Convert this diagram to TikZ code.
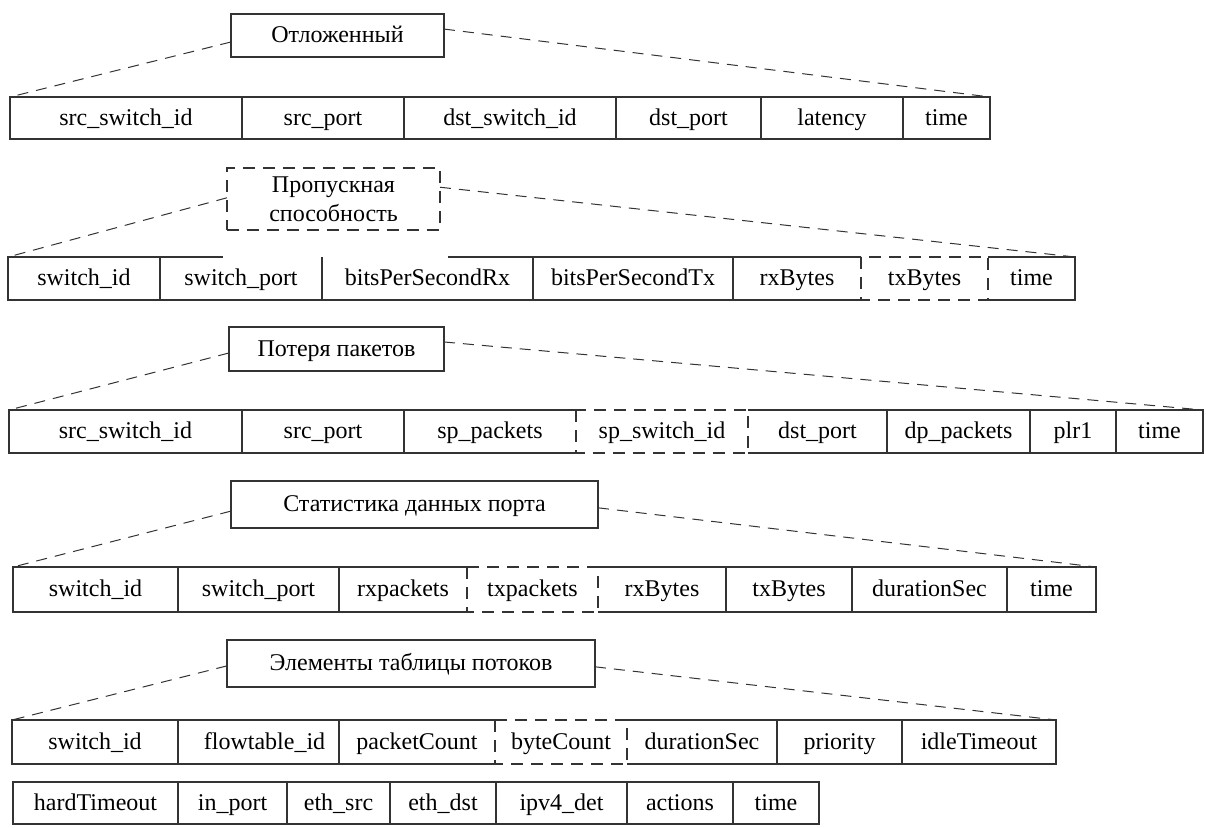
\documentclass[tikz,border=0pt]{standalone}
\usepackage{fontspec}
\setmainfont{Liberation Serif}
\usetikzlibrary{calc}

\definecolor{linec}{HTML}{333333}

% one field of a record: name, x-left, x-right, y-top, y-bottom, text
\newcommand{\fieldcell}[6]{%
  \node[cellbox, minimum width={(#3-#2)*0.5pt}, minimum height={(#5-#4)*0.5pt}]
    (#1) at ({(#2+#3)/2},{(#4+#5)/2}) {#6};}

\tikzset{
  txt/.style={text=black, font=\fontsize{12}{14.5}\selectfont},
  cellbox/.style={draw=none, inner sep=0pt, outer sep=0pt, txt,
                  text height=8.5pt, text depth=1.5pt},
  solidline/.style={draw=linec, line width=0.65pt},
  dashline/.style={draw=linec, line width=0.65pt, dash pattern=on 6pt off 4pt},
  framebox/.style={draw=linec, line width=0.65pt, inner sep=0pt, outer sep=0pt,
                   align=center, txt},
  titlebox/.style={framebox, text height=8.5pt, text depth=1.5pt},
  linkline/.style={draw=linec, line width=0.5pt, dash pattern=on 5.5pt off 4pt},
}

\begin{document}
\begin{tikzpicture}[x=0.5pt, y=-0.5pt]
\useasboundingbox (0,0) rectangle (1206,827);

% ---------- record 1 ----------
\node[titlebox, minimum width=106.5pt, minimum height=21.5pt] (t1) at (337.5,35.5) {Отложенный};
\fieldcell{r1a}{10}{242}{97}{139}{src\_switch\_id}
\fieldcell{r1b}{242}{404}{97}{139}{src\_port}
\fieldcell{r1c}{404}{616}{97}{139}{dst\_switch\_id}
\fieldcell{r1d}{616}{761}{97}{139}{dst\_port}
\fieldcell{r1e}{761}{903}{97}{139}{latency}
\fieldcell{r1f}{903}{990}{97}{139}{time}
\draw[solidline] (r1a.north west) rectangle (r1f.south east);
\foreach \c in {a,b,c,d,e} \draw[solidline] (r1\c.north east) -- (r1\c.south east);
\draw[linkline] ($(t1.north west)!0.65!(t1.south west)$) -- (r1a.north west);
\draw[linkline] ($(t1.north east)!0.35!(t1.south east)$) -- (r1f.north east);

% ---------- record 2 ----------
\node[framebox, dashline, minimum width=106.5pt, minimum height=31pt] (t2) at (333.5,199) {Пропускная\\способность};
\fieldcell{r2a}{8}{160}{257}{300}{switch\_id}
\fieldcell{r2b}{160}{322}{257}{300}{switch\_port}
\fieldcell{r2c}{322}{533}{257}{300}{bitsPerSecondRx}
\fieldcell{r2d}{533}{733}{257}{300}{bitsPerSecondTx}
\fieldcell{r2e}{733}{861}{257}{300}{rxBytes}
\fieldcell{r2f}{861}{988}{257}{300}{txBytes}
\fieldcell{r2g}{988}{1075}{257}{300}{time}
\coordinate (gapL) at (223,257);
\coordinate (gapR) at (448,257);
\draw[solidline] (gapL) -- (r2a.north west) -- (r2a.south west) -- (r2f.south west);
\draw[solidline] (gapR) -- (r2f.north west);
\draw[solidline] (r2f.north east) -- (r2g.north east) -- (r2g.south east) -- (r2f.south east);
\foreach \c in {a,b,c,d} \draw[solidline] (r2\c.north east) -- (r2\c.south east);
\draw[dashline] (r2f.north west) rectangle (r2f.south east);
\draw[linkline] ($(t2.north west)!0.48!(t2.south west)$) -- (r2a.north west);
\draw[linkline] ($(t2.north east)!0.31!(t2.south east)$) -- (r2g.north east);

% ---------- record 3 ----------
\node[titlebox, minimum width=107.5pt, minimum height=22pt] (t3) at (336.5,349) {Потеря пакетов};
\fieldcell{r3a}{9}{242}{410}{453}{src\_switch\_id}
\fieldcell{r3b}{242}{404}{410}{453}{src\_port}
\fieldcell{r3c}{404}{576}{410}{453}{sp\_packets}
\fieldcell{r3d}{576}{748}{410}{453}{sp\_switch\_id}
\fieldcell{r3e}{748}{887}{410}{453}{dst\_port}
\fieldcell{r3f}{887}{1030}{410}{453}{dp\_packets}
\fieldcell{r3g}{1030}{1116}{410}{453}{plr1}
\fieldcell{r3h}{1116}{1203}{410}{453}{time}
\draw[solidline] (r3d.north west) -- (r3a.north west) -- (r3a.south west) -- (r3d.south west);
\draw[solidline] (r3d.north east) -- (r3h.north east) -- (r3h.south east) -- (r3d.south east);
\foreach \c in {a,b,e,f,g} \draw[solidline] (r3\c.north east) -- (r3\c.south east);
\draw[dashline] (r3d.north west) rectangle (r3d.south east);
\draw[linkline] ($(t3.north west)!0.59!(t3.south west)$) -- (r3a.north west);
\draw[linkline] ($(t3.north east)!0.34!(t3.south east)$) -- (r3h.north east);

% ---------- record 4 ----------
\node[titlebox, minimum width=183.5pt, minimum height=23.5pt] (t4) at (414.5,504.5) {Статистика данных порта};
\fieldcell{r4a}{13}{178}{567}{612}{switch\_id}
\fieldcell{r4b}{178}{339}{567}{612}{switch\_port}
\fieldcell{r4c}{339}{467}{567}{612}{rxpackets}
\fieldcell{r4d}{467}{598}{567}{612}{txpackets}
\fieldcell{r4e}{598}{726}{567}{612}{rxBytes}
\fieldcell{r4f}{726}{852}{567}{612}{txBytes}
\fieldcell{r4g}{852}{1007}{567}{612}{durationSec}
\fieldcell{r4h}{1007}{1096}{567}{612}{time}
\draw[solidline] (r4d.north west) -- (r4a.north west) -- (r4a.south west) -- (r4d.south west);
\draw[solidline] (r4d.north east) -- (r4h.north east) -- (r4h.south east) -- (r4d.south east);
\foreach \c in {a,b,e,f,g} \draw[solidline] (r4\c.north east) -- (r4\c.south east);
\draw[dashline] (r4d.north west) rectangle (r4d.south east);
\draw[linkline] ($(t4.north west)!0.64!(t4.south west)$) -- (r4a.north west);
\draw[linkline] ($(t4.north east)!0.57!(t4.south east)$) -- (r4h.north east);

% ---------- record 5 ----------
\node[titlebox, minimum width=184pt, minimum height=23.5pt] (t5) at (411,663.5) {Элементы таблицы потоков};
\fieldcell{r5a}{12}{178}{720}{764}{switch\_id}
\fieldcell{r5b}{178}{339}{720}{764}{\hspace{6pt}flowtable\_id}
\fieldcell{r5c}{339}{495}{720}{764}{packetCount}
\fieldcell{r5d}{495}{627}{720}{764}{byteCount}
\fieldcell{r5e}{627}{777}{720}{764}{durationSec}
\fieldcell{r5f}{777}{902}{720}{764}{priority}
\fieldcell{r5g}{902}{1056}{720}{764}{idleTimeout}
\draw[solidline] (r5d.north west) -- (r5a.north west) -- (r5a.south west) -- (r5d.south west);
\draw[solidline] (r5d.north east) -- (r5g.north east) -- (r5g.south east) -- (r5d.south east);
\foreach \c in {a,b,e,f} \draw[solidline] (r5\c.north east) -- (r5\c.south east);
\draw[dashline] (r5d.north west) rectangle (r5d.south east);
\draw[linkline] ($(t5.north west)!0.55!(t5.south west)$) -- (r5a.north west);
\draw[linkline] ($(t5.north east)!0.57!(t5.south east)$) -- (r5g.north east);

% continuation line of record 5
\fieldcell{r6a}{13}{178}{782}{824}{hardTimeout}
\fieldcell{r6b}{178}{287}{782}{824}{in\_port}
\fieldcell{r6c}{287}{390}{782}{824}{eth\_src}
\fieldcell{r6d}{390}{496}{782}{824}{eth\_dst}
\fieldcell{r6e}{496}{627}{782}{824}{ipv4\_det}
\fieldcell{r6f}{627}{733}{782}{824}{actions}
\fieldcell{r6g}{733}{819}{782}{824}{time}
\draw[solidline] (r6a.north west) rectangle (r6g.south east);
\foreach \c in {a,b,c,d,e,f} \draw[solidline] (r6\c.north east) -- (r6\c.south east);
\end{tikzpicture}
\end{document}
